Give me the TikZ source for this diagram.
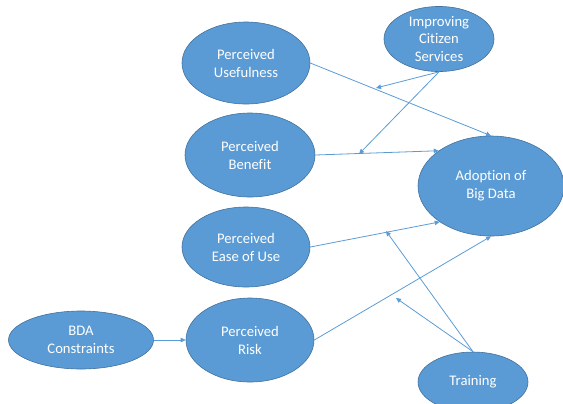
\documentclass[tikz,border=0pt]{standalone}
\usepackage{fontspec}
\setmainfont{Carlito}[Ligatures=NoCommon]
\usetikzlibrary{arrows.meta,shapes.geometric}
\definecolor{fillblue}{HTML}{5B9BD5}
\definecolor{edgeblue}{HTML}{41719C}
\definecolor{lineblue}{HTML}{5B9BD5}
\tikzset{
  bubble/.style={ellipse, fill=fillblue, draw=edgeblue, line width=0.6pt, inner sep=0pt,
    text=white, align=center, font=\fontsize{14.7}{18}\selectfont},
  link/.style={draw=lineblue, line width=0.8pt, -{Triangle[length=5pt,width=4.5pt]}},
}
\begin{document}
\begin{tikzpicture}[x=1bp,y=-1bp]
\useasboundingbox (0,0) rectangle (563,403);
\node[bubble, minimum width=128bp, minimum height=82bp] (pu) at (246,63) {Perceived\\Usefulness};
\node[bubble, minimum width=110bp, minimum height=58bp] (ic) at (439,39) {Improving\\Citizen\\Services};
\node[bubble, minimum width=130bp, minimum height=84bp] (pb) at (250,155) {Perceived\\Benefit};
\node[bubble, minimum width=146bp, minimum height=100bp] (ad) at (491,186) {Adoption of\\Big Data};
\node[bubble, minimum width=128bp, minimum height=80bp] (pe) at (246,247) {Perceived\\Ease of Use};
\node[bubble, minimum width=128bp, minimum height=84bp] (pr) at (250,340) {Perceived\\Risk};
\node[bubble, minimum width=145bp, minimum height=58bp] (bda) at (81,340) {BDA\\Constraints};
\node[bubble, minimum width=110bp, minimum height=60bp] (tr) at (473,382) {Training};
\coordinate (icA) at (376,88);
\coordinate (icB) at (359,154);
\coordinate (trA) at (386,231);
\coordinate (trB) at (396,298);
\draw[link] (pu.east) -- (ad.north);
\draw[link] (ic.south) -- (icA);
\draw[link] (ic.south) -- (icB);
\draw[link] (pb.east) -- (ad.146);
\draw[link] (pe.east) -- (ad.215);
\draw[link] (pr.east) -- (ad.south);
\draw[link] (tr.north) -- (trA);
\draw[link] (tr.north) -- (trB);
\draw[link] (bda.east) -- (pr.west);
\end{tikzpicture}
\end{document}
